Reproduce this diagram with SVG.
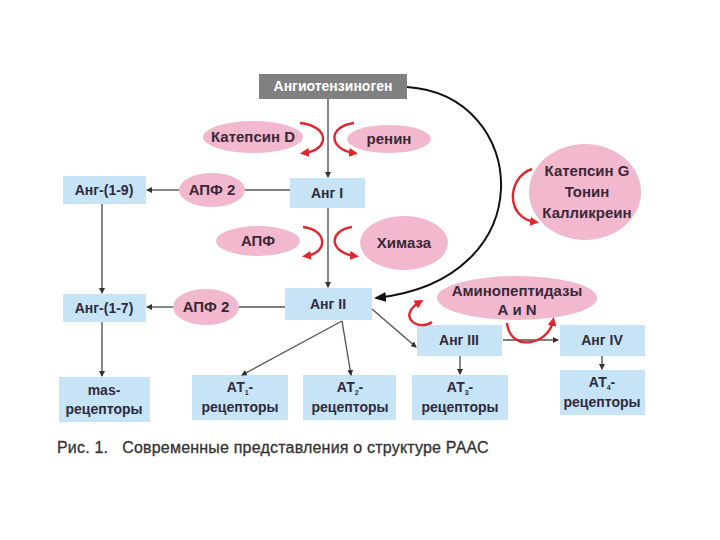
<svg xmlns="http://www.w3.org/2000/svg" width="720" height="540" viewBox="0 0 720 540">
<defs>
<style>
.box{fill:#c6e4f5}
.ell{fill:#f2b8cd}
.t{font-family:"Liberation Sans",Arial,sans-serif;font-weight:bold;font-size:14px;fill:#2e2a3c;text-anchor:middle}
.te{font-family:"Liberation Sans",Arial,sans-serif;font-weight:bold;font-size:15px;fill:#3a2838;text-anchor:middle}
.ln{stroke:#555;stroke-width:1.4;fill:none}
.red{stroke:#e0262e;stroke-width:2.4;fill:none}
</style>
<marker id="ah" markerWidth="6" markerHeight="6" refX="5" refY="3" orient="auto" markerUnits="userSpaceOnUse">
<path d="M0,0 L6,3 L0,6 z" fill="#333"/>
</marker>
<marker id="bh" markerWidth="12" markerHeight="10" refX="10" refY="5" orient="auto" markerUnits="userSpaceOnUse">
<path d="M0,0 L12,5 L0,10 z" fill="#111"/>
</marker>
<marker id="rh" markerWidth="9" markerHeight="9" refX="5" refY="4.5" orient="auto" markerUnits="userSpaceOnUse">
<path d="M0,0 L9,4.5 L0,9 z" fill="#e0262e"/>
</marker>
</defs>
<rect width="720" height="540" fill="#fff"/>

<g id="angiotensinogen">
<rect x="259" y="74" width="148" height="25" fill="#808080"/>
<text class="t" x="333" y="91" style="fill:#fff">Ангиотензиноген</text>
</g>
<g id="katepsinD"><ellipse class="ell" cx="253" cy="137" rx="50" ry="16"/><text class="te" x="253" y="142">Катепсин D</text></g>
<g id="renin"><ellipse class="ell" cx="389" cy="139" rx="42" ry="14"/><text class="te" x="389" y="144">ренин</text></g>
<g id="angI"><rect class="box" x="290" y="178" width="75" height="30"/><text class="t" x="327" y="198">Анг I</text></g>
<g id="apf2a"><ellipse class="ell" cx="212" cy="190" rx="33" ry="17"/><text class="te" x="212" y="195">АПФ 2</text></g>
<g id="ang19"><rect class="box" x="63" y="176" width="83" height="28"/><text class="t" x="104" y="195">Анг-(1-9)</text></g>
<g id="apf"><ellipse class="ell" cx="258" cy="241" rx="42" ry="15"/><text class="te" x="258" y="246">АПФ</text></g>
<g id="himaza"><ellipse class="ell" cx="404" cy="243" rx="44" ry="27"/><text class="te" x="404" y="248">Химаза</text></g>
<g id="katepsinG"><ellipse class="ell" cx="585" cy="192" rx="56" ry="48"/>
<text class="te" x="587" y="176">Катепсин G</text><text class="te" x="587" y="197">Тонин</text><text class="te" x="587" y="218">Калликреин</text></g>
<g id="angII"><rect class="box" x="285" y="288" width="87" height="32"/><text class="t" x="328" y="309">Анг II</text></g>
<g id="apf2b"><ellipse class="ell" cx="206" cy="307" rx="33" ry="18"/><text class="te" x="206" y="312">АПФ 2</text></g>
<g id="ang17"><rect class="box" x="63" y="294" width="83" height="28"/><text class="t" x="104" y="313">Анг-(1-7)</text></g>
<g id="aminopep"><ellipse class="ell" cx="517" cy="298" rx="80" ry="22"/><text class="te" x="517" y="296">Аминопептидазы</text><text class="te" x="517" y="315">А и N</text></g>
<g id="angIII"><rect class="box" x="417" y="325" width="85" height="31"/><text class="t" x="459" y="345">Анг III</text></g>
<g id="angIV"><rect class="box" x="560" y="325" width="85" height="31"/><text class="t" x="602" y="345">Анг IV</text></g>
<g id="mas"><rect class="box" x="59" y="377" width="91" height="45"/><text class="t" x="104" y="395">mas-</text><text class="t" x="104" y="414">рецепторы</text></g>
<g id="at1"><rect class="box" x="192" y="375" width="96" height="45"/><text class="t" x="240" y="392">АТ<tspan font-size="7" dy="3">1</tspan><tspan dy="-3">-</tspan></text><text class="t" x="240" y="412">рецепторы</text></g>
<g id="at2"><rect class="box" x="303" y="375" width="93" height="45"/><text class="t" x="350" y="392">АТ<tspan font-size="7" dy="3">2</tspan><tspan dy="-3">-</tspan></text><text class="t" x="350" y="412">рецепторы</text></g>
<g id="at3"><rect class="box" x="412" y="375" width="96" height="45"/><text class="t" x="460" y="392">АТ<tspan font-size="7" dy="3">3</tspan><tspan dy="-3">-</tspan></text><text class="t" x="460" y="412">рецепторы</text></g>
<g id="at4"><rect class="box" x="560" y="370" width="85" height="45"/><text class="t" x="602" y="387">АТ<tspan font-size="7" dy="3">4</tspan><tspan dy="-3">-</tspan></text><text class="t" x="602" y="407">рецепторы</text></g>

<g id="connectors">
<line class="ln" x1="328" y1="99" x2="328" y2="177" marker-end="url(#ah)"/>
<line class="ln" x1="328" y1="208" x2="328" y2="287" marker-end="url(#ah)"/>
<line class="ln" x1="290" y1="190" x2="245" y2="190"/>
<line class="ln" x1="179" y1="190" x2="147" y2="190" marker-end="url(#ah)"/>
<line class="ln" x1="285" y1="307" x2="239" y2="307"/>
<line class="ln" x1="173" y1="307" x2="147" y2="307" marker-end="url(#ah)"/>
<line class="ln" x1="102" y1="204" x2="102" y2="293" marker-end="url(#ah)"/>
<line class="ln" x1="102" y1="322" x2="102" y2="376" marker-end="url(#ah)"/>
<line class="ln" x1="342" y1="321" x2="242" y2="375" marker-end="url(#ah)"/>
<line class="ln" x1="342" y1="321" x2="351" y2="375" marker-end="url(#ah)"/>
<line class="ln" x1="372" y1="309" x2="416" y2="347" marker-end="url(#ah)"/>
<line class="ln" x1="503" y1="340" x2="558" y2="340" marker-end="url(#ah)"/>
<line class="ln" x1="460" y1="356" x2="460" y2="374" marker-end="url(#ah)"/>
<line class="ln" x1="602" y1="356" x2="602" y2="369" marker-end="url(#ah)"/>
<path d="M407,87 C530,95 545,280 376,298" stroke="#111" stroke-width="2" fill="none" marker-end="url(#bh)"/>
<path class="red" d="M300,123 C330,126 330,150 304,153" marker-end="url(#rh)"/>
<path class="red" d="M354,123 C326,127 330,150 354,153" marker-end="url(#rh)"/>
<path class="red" d="M303,227 C328,230 328,253 306,256" marker-end="url(#rh)"/>
<path class="red" d="M352,227 C327,231 330,253 355,256" marker-end="url(#rh)"/>
<path class="red" d="M532,169 C506,178 506,218 535,222" marker-end="url(#rh)"/>
<path class="red" d="M432,322 C418,332 396,316 420,302" marker-end="url(#rh)"/>
<path class="red" d="M507,323 C510,352 548,346 553,321" marker-end="url(#rh)"/>
</g>

<text x="57" y="453" font-family="'Liberation Sans',Arial,sans-serif" font-size="16" letter-spacing="0.2" stroke="#333" stroke-width="0.3" fill="#333" xml:space="preserve">Рис. 1.   Современные представления о структуре РААС</text>
</svg>
